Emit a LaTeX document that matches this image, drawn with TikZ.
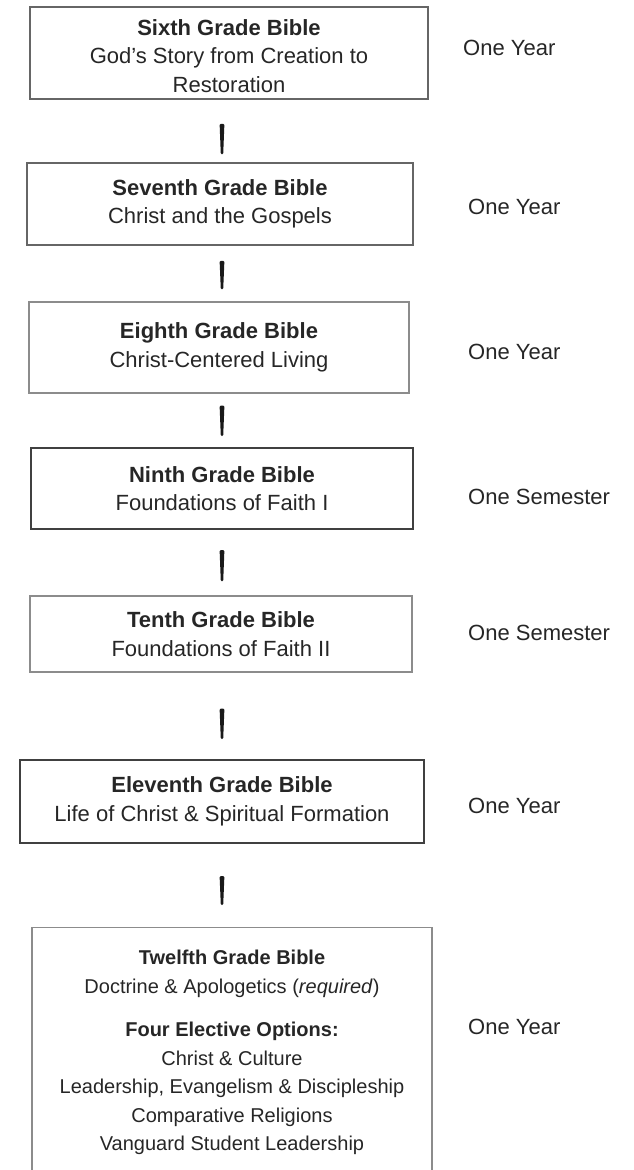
\documentclass[tikz,border=0pt]{standalone}
\usepackage{fontspec}
\setmainfont{Liberation Sans}
\usetikzlibrary{calc}

\tikzset{
  gradebox/.style={draw=black!60, line width=1.5pt, align=center, text=black!85,
    inner sep=0pt, font=\fontsize{22pt}{28.5pt}\selectfont},
  darkbox/.style={gradebox, draw=black!75, line width=2pt},
  lightbox/.style={gradebox, draw=black!45, line width=1.3pt},
  termlabel/.style={anchor=west, inner sep=0pt, text=black!85,
    font=\fontsize{22pt}{26pt}\selectfont},
  link/.style 2 args={fill=black!90, rounded corners=1.2pt, to path={
    let \p1=(\tikztostart.south), \p2=(\tikztotarget.north), \p3=(spine) in
    (\x3-2.4pt,\y1-#1) -- (\x3+2.4pt,\y1-#1) -- (\x3+1.2pt,\y2+#2) -- (\x3-1.2pt,\y2+#2) -- cycle}}
}

\begin{document}
\begin{tikzpicture}[x=1pt,y=1pt]
\useasboundingbox (0,0) rectangle (633,-1170);
\coordinate (spine) at (222,0);

\node[gradebox, minimum width=398pt, minimum height=92pt] (s6) at (229,-53) {\rule{0pt}{22pt}\textbf{Sixth Grade Bible}\\God’s Story from Creation to\\Restoration};
\node[gradebox, minimum width=386pt, minimum height=82pt] (s7) at (220,-204) {\textbf{Seventh Grade Bible}\\Christ and the Gospels};
\node[lightbox, minimum width=380pt, minimum height=91pt] (s8) at (219,-347.5) {\textbf{Eighth Grade Bible}\\Christ-Centered Living};
\node[darkbox, minimum width=382pt, minimum height=81pt] (s9) at (222,-488.5) {\textbf{Ninth Grade Bible}\\Foundations of Faith I};
\node[lightbox, minimum width=382pt, minimum height=76pt] (s10) at (221,-634) {\textbf{Tenth Grade Bible}\\Foundations of Faith II};
\node[darkbox, minimum width=404pt, minimum height=83pt] (s11) at (222,-801.5) {\textbf{Eleventh Grade Bible}\\Life of Christ \& Spiritual Formation};
\node[lightbox, font=\fontsize{20pt}{28.5pt}\selectfont, minimum width=400pt, minimum height=250pt, anchor=north] (s12) at (232,-927)
  {\textbf{Twelfth Grade Bible}\\Doctrine \& Apologetics (\textit{required})\\[15pt]
   \textbf{Four Elective Options:}\\Christ \& Culture\\Leadership, Evangelism \& Discipleship\\Comparative Religions\\Vanguard Student Leadership};

% lengths of study
\node[termlabel] (t6) at (463,-48) {One Year};
\node[termlabel] (t7) at (468,-207) {One Year};
\node[termlabel] (t8) at (468,-352) {One Year};
\node[termlabel] (t9) at (468,-497) {One Semester};
\node[termlabel] (t10) at (468,-633) {One Semester};
\node[termlabel] (t11) at (468,-806) {One Year};
\node[termlabel] (t12) at (468,-1027) {One Year};

\fill[link={24pt}{8pt}] (s6) to (s7);
\fill[link={15pt}{12pt}] (s7) to (s8);
\fill[link={12pt}{11pt}] (s8) to (s9);
\fill[link={20pt}{14pt}] (s9) to (s10);
\fill[link={36pt}{20pt}] (s10) to (s11);
\fill[link={32pt}{22pt}] (s11) to (s12);
\end{tikzpicture}
\end{document}
